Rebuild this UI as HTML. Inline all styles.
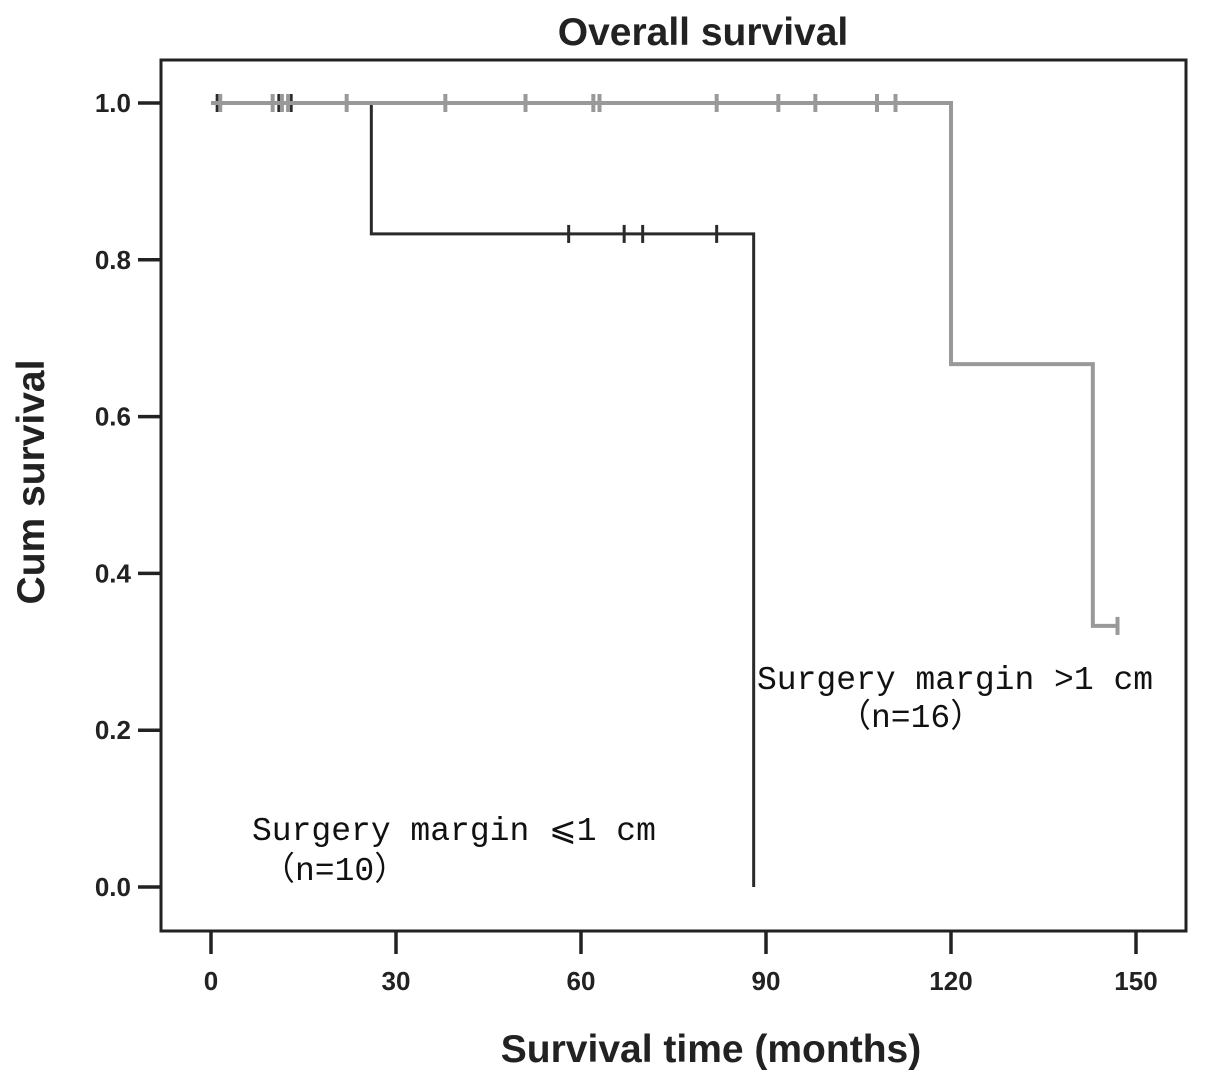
<!DOCTYPE html>
<html><head><meta charset="utf-8"><style>
body{margin:0;background:#fff;}
svg{display:block;}
.t{font-family:"Liberation Sans",sans-serif;font-weight:bold;fill:#222;}
.s{font-family:"Liberation Mono","Noto Sans CJK SC",monospace;fill:#111;}
</style></head><body>
<svg id="chart" width="1205" height="1084" viewBox="0 0 1205 1084">
<text class="t" x="703" y="45" font-size="39" text-anchor="middle">Overall survival</text>
<rect x="161" y="60" width="1025" height="871" fill="none" stroke="#222" stroke-width="3"/>
<g id="axes"></g>
<g id="series"></g>
<text class="t" x="711" y="1062" font-size="39" text-anchor="middle">Survival time (months)</text>
<text class="t" x="44" y="482" font-size="39" text-anchor="middle" transform="rotate(-90 44 482)">Cum survival</text>
<text class="s" x="757" y="689" font-size="33">Surgery margin &gt;1 cm</text>
<text class="s" x="838" y="727" font-size="33">（n=16）</text>
<text class="s" x="252" y="840" font-size="33">Surgery margin ⩽1 cm</text>
<text class="s" x="262" y="880" font-size="33">（n=10）</text>
</svg>
<script>
const xTicks=[0,30,60,90,120,150];
const yTicks=[0.0,0.2,0.4,0.6,0.8,1.0];
const g1Steps=[[0,1.0],[26,0.833],[88,0.0]];
const g1End=88;
const g1Censor=[[1,1.0],[10,1.0],[11,1.0],[13,1.0],[58,0.833],[67,0.833],[70,0.833],[82,0.833]];
const g2Steps=[[0,1.0],[120,0.667],[143,0.333]];
const g2End=147;
const g2Censor=[[1.5,1.0],[10,1.0],[11.5,1.0],[12.5,1.0],[22,1.0],[38,1.0],[51,1.0],[62,1.0],[63,1.0],[82,1.0],[92,1.0],[98,1.0],[108,1.0],[111,1.0],[147,0.333]];
const X=v=>211+v*(1136-211)/150;
const Y=v=>887-v*(887-103);
const NS="http://www.w3.org/2000/svg";
const ax=document.getElementById('axes'), se=document.getElementById('series');
function mk(p,tag,at){const e=document.createElementNS(NS,tag);for(const k in at)e.setAttribute(k,at[k]);p.appendChild(e);return e;}
xTicks.forEach(v=>{
 const l=mk(ax,'line',{x1:X(v),x2:X(v),y1:931,y2:954,stroke:'#222','stroke-width':3.5});
 
 
 const t=mk(ax,'text',{x:X(v),y:990,'font-size':26,'text-anchor':'middle',class:'t'});t.textContent=v;
 
 
});
yTicks.forEach(v=>{
 const l=mk(ax,'line',{x1:138,x2:161,y1:Y(v),y2:Y(v),stroke:'#222','stroke-width':3.5});
 
 
 const t=mk(ax,'text',{x:131,y:Y(v)+9,'font-size':26,'text-anchor':'end',class:'t'});t.textContent=v.toFixed(1);
 
 
});
function stepPath(steps,end){let d='M'+X(steps[0][0])+','+Y(steps[0][1]);
 for(let i=1;i<steps.length;i++){d+=' H'+X(steps[i][0])+' V'+Y(steps[i][1]);}
 d+=' H'+X(end);return d;}
function draw(steps,end,cens,color,name,w){
 const p=mk(se,'path',{d:stepPath(steps,end),fill:'none',stroke:color,'stroke-width':w});
 
 
 cens.forEach(c=>{const m=mk(se,'line',{x1:X(c[0]),x2:X(c[0]),y1:Y(c[1])-9,y2:Y(c[1])+9,stroke:color,'stroke-width':w});
  
  });
}
draw(g1Steps,g1End,g1Censor,'#2a2a2a','group-le1cm',3);
draw(g2Steps,g2End,g2Censor,'#999','group-gt1cm',4);
</script>
</body></html>
